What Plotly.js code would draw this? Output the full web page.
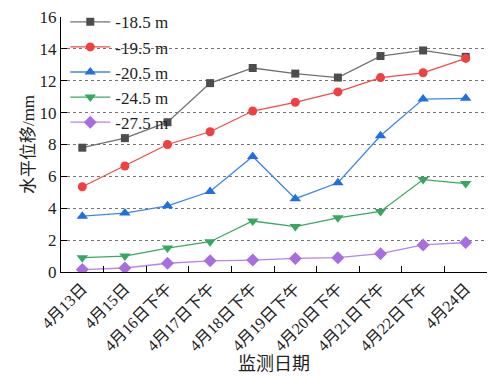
<!DOCTYPE html>
<html><head><meta charset="utf-8">
<script src="https://cdn.plot.ly/plotly-3.0.1.min.js"></script>
<style>html,body{margin:0;padding:0;background:#fff}</style>
</head><body>
<div id="chart" style="width:491px;height:376px"></div>
<script>
const categories = ['4月13日','4月15日','4月16日下午','4月17日下午','4月18日下午','4月19日下午','4月20日下午','4月21日下午','4月22日下午','4月24日'];
const seriesNames = ['-18.5 m','-19.5 m','-20.5 m','-24.5 m','-27.5 m'];
const d185 = [7.8, 8.4, 9.4, 11.85, 12.8, 12.45, 12.2, 13.55, 13.9, 13.5];
const d195 = [5.35, 6.65, 8.0, 8.8, 10.1, 10.65, 11.3, 12.2, 12.5, 13.4];
const d205 = [3.5, 3.7, 4.15, 5.05, 7.25, 4.6, 5.6, 8.55, 10.85, 10.9];
const d245 = [0.9, 1.0, 1.5, 1.9, 3.2, 2.85, 3.4, 3.8, 5.8, 5.55];
const d275 = [0.15, 0.25, 0.55, 0.7, 0.75, 0.85, 0.9, 1.15, 1.7, 1.85];
const yTicks = [0,2,4,6,8,10,12,14,16];

const styles = [
  {line:'#707070', marker:'#4d4d4d', symbol:'square', size:8},
  {line:'#f04a4a', marker:'#f04040', symbol:'circle', size:9},
  {line:'#3f86e6', marker:'#1f6fe0', symbol:'triangle-up', size:10},
  {line:'#3aa862', marker:'#34a860', symbol:'triangle-down', size:10},
  {line:'#b884e6', marker:'#a86ee0', symbol:'diamond', size:10}
];
const allData = [d185, d195, d205, d245, d275];
const traces = allData.map((ys, i) => ({
  x: categories, y: ys, name: seriesNames[i], type: 'scatter', mode: 'lines+markers',
  line: {color: styles[i].line, width: 1.3},
  marker: {color: styles[i].marker, symbol: styles[i].symbol, size: styles[i].size}
}));

const fontFam = '"Liberation Serif", "Times New Roman", "Noto Sans CJK SC", serif';
const layout = {
  width: 491, height: 376,
  margin: {l: 61, r: 4, t: 17, b: 104},
  paper_bgcolor: '#fff', plot_bgcolor: '#fff',
  font: {family: fontFam, size: 16, color: '#222'},
  showlegend: true,
  legend: {x: 0.01, y: 1.05, xanchor: 'left', yanchor: 'top', bgcolor: 'rgba(0,0,0,0)',
    font: {family: fontFam, size: 17, color: '#222'}, tracegroupgap: 0, itemwidth: 40},
  xaxis: {
    type: 'category', range: [-0.5, 9.5], tickangle: -45,
    showline: true, linecolor: '#000', linewidth: 1.2,
    ticks: 'inside', ticklen: 6, tickcolor: '#000', tickson: 'boundaries',
    showgrid: false, zeroline: false,
    tickfont: {family: fontFam, size: 16, color: '#222'},
    title: {text: '监测日期', font: {family: fontFam, size: 18, color: '#222'}, standoff: 4}
  },
  yaxis: {
    range: [0, 16], tickvals: yTicks, ticktext: yTicks.map(String),
    showline: true, linecolor: '#000', linewidth: 1.2,
    ticks: 'inside', ticklen: 6, tickcolor: '#000',
    showgrid: true, gridcolor: '#777', griddash: 'dot', gridwidth: 1,
    zeroline: false,
    tickfont: {family: fontFam, size: 17, color: '#222'},
    title: {text: '水平位移/mm', font: {family: fontFam, size: 17, color: '#222'}, standoff: 0}
  }
};
Plotly.newPlot('chart', traces, layout, {displayModeBar: false, staticPlot: true});
</script>
</body></html>
